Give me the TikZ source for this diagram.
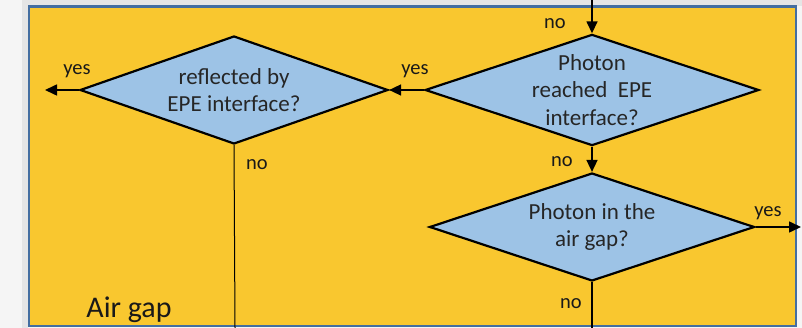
\documentclass[tikz,border=0pt]{standalone}
\usepackage{fontspec}
\setmainfont{Carlito}
\usetikzlibrary{shapes.geometric,arrows.meta}

\definecolor{gapyellow}{RGB}{249,199,47}
\definecolor{boxblue}{RGB}{157,195,230}
\definecolor{rimblue}{RGB}{68,110,160}

\tikzset{
  test/.style={diamond, draw=black, line width=2.2pt, fill=boxblue,
    aspect=3, inner sep=0pt, align=center, text=black!85,
    font=\fontsize{23}{27.5}\selectfont},
  lbl/.style={anchor=base, inner sep=0pt, text=black!90, font=\fontsize{20.5}{24}\selectfont},
  flow/.style={line width=1.6pt, -{Triangle[length=12pt,width=11pt]}},
}

\begin{document}
\begin{tikzpicture}[x=1pt,y=-1pt]
        \useasboundingbox (0,0) rectangle (802,328);
        % page and air gap region
        \fill[black!4] (0,0) rectangle (802,328);
        \fill[black!10] (22,0) rectangle (802,6);
        \fill[black!10] (22,0) rectangle (28,328);
        \draw[rimblue, line width=2.5pt, fill=gapyellow] (29,6.5) rectangle (796,326);

        \node[test, minimum width=308pt, minimum height=108pt] (refl) at (234,90) {reflected by\\EPE interface?};
        \node[test, minimum width=330pt, minimum height=106pt] (reach) at (592,90) {Photon\\reached~ EPE\\interface?};
        \node[test, minimum width=325pt, minimum height=108pt] (ingap) at (592,227) {Photon in the\\air gap?};

        \coordinate (in) at (592,0);
        \coordinate (out1) at (45,90);
        \coordinate (out2) at (235,328);
        \coordinate (out3) at (801,227);
        \coordinate (out4) at (592,328);

        \draw[flow] (in) -- (reach.north);
        \draw[flow] (reach.west) -- (refl.east);
        \draw[flow] (refl.west) -- (out1);
        \draw[line width=1pt] (refl.south) -- (out2);
        \draw[flow] (reach.south) -- (ingap.north);
        \draw[flow] (ingap.east) -- (out3);
        \draw[line width=1.2pt] (ingap.south) -- (out4);

        \node[lbl] (no1) at (555,29) {no};
        \node[lbl] (yes1) at (415,75) {yes};
        \node[lbl] (yes2) at (77,75) {yes};
        \node[lbl] (no2) at (257,170) {no};
        \node[lbl] (no3) at (562,167) {no};
        \node[lbl] (yes3) at (768,217) {yes};
        \node[lbl] (no4) at (571,308) {no};
        \node[lbl, font=\fontsize{30}{34}\selectfont] (gap) at (129,317) {Air gap};
    \end{tikzpicture}
\end{document}
